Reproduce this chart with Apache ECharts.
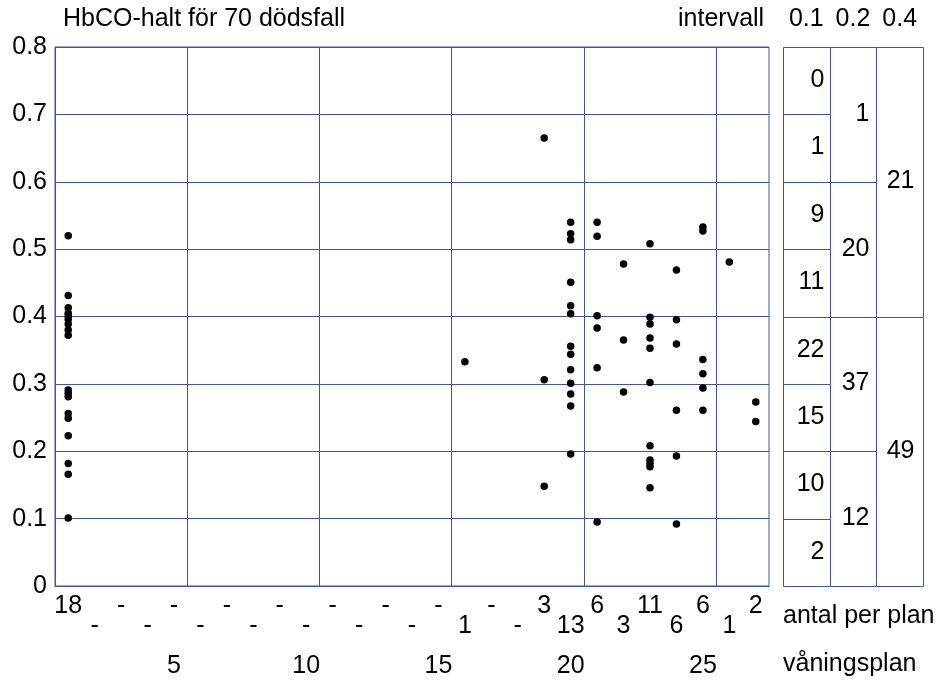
<!DOCTYPE html>
<html>
<head>
<meta charset="utf-8">
<script src="https://cdn.jsdelivr.net/npm/echarts@6/dist/echarts.min.js"></script>
<style>
  html, body { margin: 0; padding: 0; background: #fff; }
  #chart { width: 942px; height: 680px; }
</style>
</head>
<body>
<div id="chart"></div>
<script>
// HbCO-halt (andel) för varje dödsfall, grupperat per våningsplan
const floors = [1, 16, 19, 20, 21, 22, 23, 24, 25, 26, 27];
const hbco = [
  [0.520, 0.431, 0.413, 0.405, 0.401, 0.396, 0.389, 0.380, 0.372, 0.291, 0.286, 0.281, 0.256, 0.249, 0.223, 0.182, 0.166, 0.101],
  [0.333],
  [0.665, 0.306, 0.148],
  [0.540, 0.523, 0.514, 0.451, 0.416, 0.404, 0.356, 0.344, 0.321, 0.301, 0.285, 0.267, 0.196],
  [0.540, 0.519, 0.401, 0.383, 0.324, 0.095],
  [0.478, 0.365, 0.288],
  [0.508, 0.399, 0.389, 0.368, 0.353, 0.302, 0.208, 0.187, 0.182, 0.177, 0.146],
  [0.469, 0.395, 0.359, 0.261, 0.193, 0.092],
  [0.533, 0.527, 0.336, 0.315, 0.294, 0.261],
  [0.481],
  [0.273, 0.244]
];
const floorTotal = 27;
const floorTicks = [5, 10, 15, 20, 25];
const floorDividers = [5.5, 10.5, 15.5, 20.5, 25.5];

// Antal dödsfall per HbCO-intervall (bredd 0.1, 0.2 och 0.4), nerifrån och upp
const intervalNames = ['0.1', '0.2', '0.4'];
const intervalWidths = [0.1, 0.2, 0.4];
const bins01 = [2, 10, 15, 22, 11, 9, 1, 0];
const bins02 = [12, 37, 20, 1];
const bins04 = [49, 21];

const LINE = '#3c55ad';
const FONT_FAMILY = '"Liberation Sans", Arial, Helvetica, sans-serif';
const FS = 25;
const FONT = FS + 'px ' + FONT_FAMILY;

// punkter
const dots = [];
floors.forEach((f, i) => hbco[i].forEach(v => dots.push([f, v])));

// antal per plan, udda plan på övre raden och jämna på nedre
const perFloor = [];
for (let f = 1; f <= floorTotal; f++) {
  const idx = floors.indexOf(f);
  const n = idx >= 0 ? hbco[idx].length : 0;
  perFloor.push([f, f % 2 === 1 ? 0.75 : 0.25, n]);
}

// intervallrutor
const cells = [];
[bins01, bins02, bins04].forEach((bins, c) => {
  bins.forEach((n, i) => {
    const lo = i * intervalWidths[c];
    cells.push([c, lo, lo + intervalWidths[c], n]);
  });
});

const snap = v => Math.round(v) + 0.5;

const chart = echarts.init(document.getElementById('chart'));
chart.setOption({
  animation: false,
  backgroundColor: '#fff',
  textStyle: { fontFamily: FONT_FAMILY },
  grid: [
    { left: 55, top: 47, width: 714, height: 539, show: true, borderColor: LINE, borderWidth: 1, backgroundColor: 'transparent' },
    { left: 55, top: 596, width: 714, height: 40 },
    { left: 783, top: 47, width: 140, height: 539 }
  ],
  xAxis: [
    {
      gridIndex: 0, type: 'value', min: 0.5, max: 27.5,
      axisLine: { show: true, lineStyle: { color: LINE, width: 1, opacity: 1 } },
      axisTick: { show: false },
      splitLine: { show: false },
      axisLabel: {
        customValues: floorTicks,
        color: '#000', fontSize: FS, fontFamily: FONT_FAMILY,
        margin: 80, verticalAlign: 'middle'
      }
    },
    { gridIndex: 1, type: 'value', min: 0.5, max: 27.5, show: false },
    {
      gridIndex: 2, type: 'category', data: intervalNames, position: 'top',
      axisLine: { show: false }, axisTick: { show: false }, splitLine: { show: false },
      axisLabel: { color: '#000', fontSize: FS, fontFamily: FONT_FAMILY, margin: 28, verticalAlign: 'middle' }
    }
  ],
  yAxis: [
    {
      gridIndex: 0, type: 'value', min: 0, max: 0.8, interval: 0.1,
      axisLine: { show: true, lineStyle: { color: LINE, width: 1, opacity: 1 } },
      axisTick: { show: false },
      splitLine: { show: true, lineStyle: { color: LINE, width: 1, type: 'solid', opacity: 1 } },
      axisLabel: { color: '#000', fontSize: FS, fontFamily: FONT_FAMILY, margin: 8 }
    },
    { gridIndex: 1, type: 'value', min: 0, max: 1, show: false },
    { gridIndex: 2, type: 'value', min: 0, max: 0.8, show: false }
  ],
  series: [
    {
      name: 'HbCO',
      type: 'scatter',
      xAxisIndex: 0, yAxisIndex: 0,
      data: dots,
      symbol: 'circle',
      symbolSize: 7.5,
      itemStyle: { color: '#000', opacity: 1 },
      emphasis: { disabled: true },
      z: 3,
      markLine: {
        silent: true,
        z: 1,
        symbol: ['none', 'none'],
        label: { show: false },
        emphasis: { disabled: true },
        lineStyle: { color: LINE, width: 1, type: 'solid', opacity: 1 },
        data: floorDividers.map(x => ({ xAxis: x }))
      }
    },
    {
      name: 'antal per plan',
      type: 'scatter',
      xAxisIndex: 1, yAxisIndex: 1,
      data: perFloor,
      symbolSize: 0,
      silent: true,
      itemStyle: { opacity: 1 },
      emphasis: { disabled: true },
      label: {
        show: true, position: 'inside',
        color: '#000', opacity: 1, fontSize: FS, fontFamily: FONT_FAMILY,
        formatter: p => (p.value[2] > 0 ? String(p.value[2]) : '-')
      }
    },
    {
      name: 'intervall',
      type: 'custom',
      xAxisIndex: 2, yAxisIndex: 2,
      data: cells,
      silent: true,
      renderItem: (params, api) => {
        const c = api.value(0), lo = api.value(1), hi = api.value(2), n = api.value(3);
        const top = api.coord([c, hi]);
        const bottom = api.coord([c, lo]);
        const bw = api.size([1, 0])[0];
        const x0 = snap(top[0] - bw / 2), x1 = snap(top[0] + bw / 2);
        const y0 = snap(top[1]), y1 = snap(bottom[1]);
        const pad = [6, 7, 9][c];
        return {
          type: 'group',
          children: [
            {
              type: 'rect',
              shape: { x: x0, y: y0, width: x1 - x0, height: y1 - y0 },
              style: { fill: 'none', stroke: LINE, lineWidth: 1 }
            },
            {
              type: 'text',
              x: x1 - pad, y: (y0 + y1) / 2 - 1,
              style: {
                text: String(n), fill: '#000', font: FONT,
                align: 'right', verticalAlign: 'middle'
              }
            }
          ]
        };
      }
    }
  ],
  graphic: [
    { type: 'text', x: 63, y: 19, style: { text: 'HbCO-halt för 70 dödsfall', fill: '#000', font: FONT, align: 'left', verticalAlign: 'middle' } },
    { type: 'text', x: 678, y: 19, style: { text: 'intervall', fill: '#000', font: FONT, align: 'left', verticalAlign: 'middle' } },
    { type: 'text', x: 783, y: 616, style: { text: 'antal per plan', fill: '#000', font: FONT, align: 'left', verticalAlign: 'middle' } },
    { type: 'text', x: 783, y: 664, style: { text: 'våningsplan', fill: '#000', font: FONT, align: 'left', verticalAlign: 'middle' } }
  ]
});
</script>
</body>
</html>
